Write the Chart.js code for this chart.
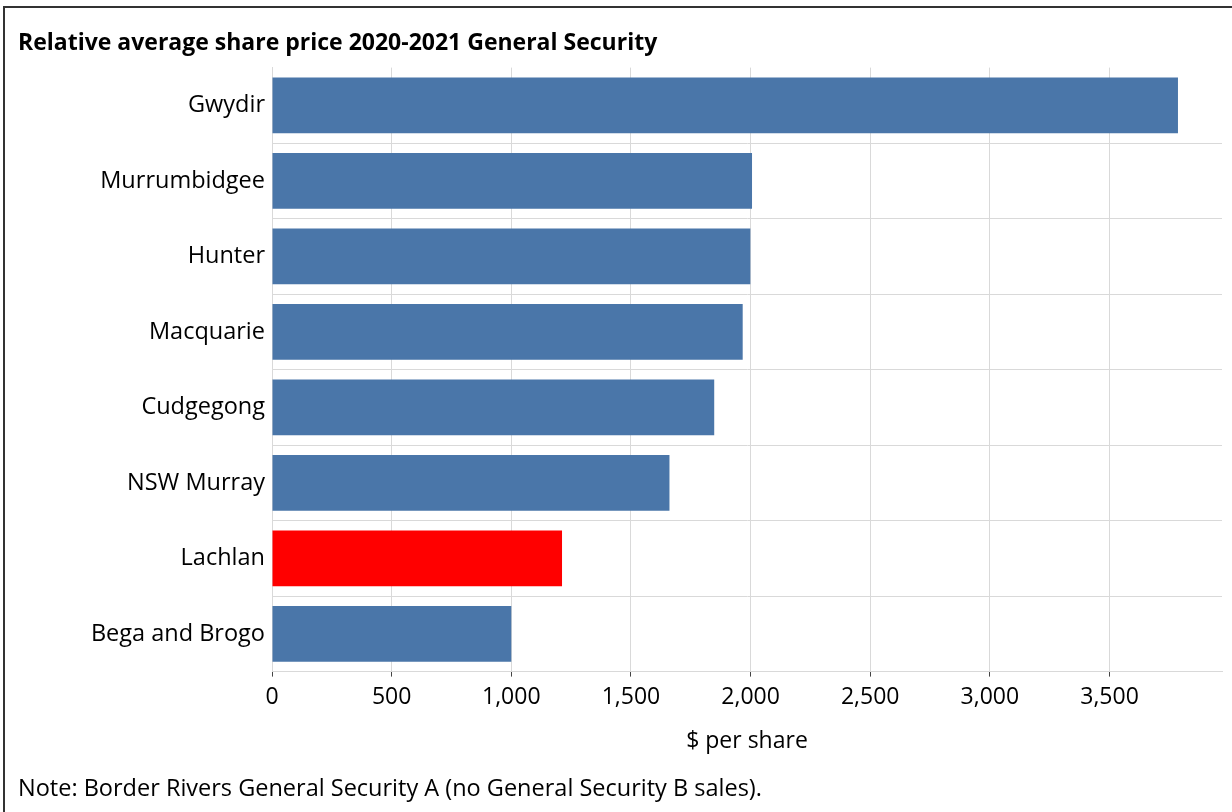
<!DOCTYPE html>
<html>
<head>
<meta charset="utf-8">
<script src="https://cdn.jsdelivr.net/npm/chart.js@4.4.1/dist/chart.umd.min.js"></script>
<style>
  body { margin: 0; background: #fff; }
  .wrap { position: relative; width: 1232px; height: 812px; overflow: hidden; }
  .frame { position: absolute; left: 3px; top: 6px; width: 1300px; height: 900px; border: 2px solid #333; }
  canvas { position: absolute; left: 0; top: 0; }
</style>
</head>
<body>
<div class="wrap">
  <div class="frame"></div>
  <canvas id="chart" width="1232" height="812"></canvas>
</div>
<script>
const categories = ['Gwydir', 'Murrumbidgee', 'Hunter', 'Macquarie', 'Cudgegong', 'NSW Murray', 'Lachlan', 'Bega and Brogo'];
const prices = [3786, 2006, 1999, 1967, 1848, 1661, 1212, 1000];
const xTicks = [0, 500, 1000, 1500, 2000, 2500, 3000, 3500];
const highlight = 'Lachlan';

const font = "'Open Sans', Lato, sans-serif";
const blue = '#4a76a9';
const red = '#ff0000';
const grid = '#d9d9d9';

const ctx = document.querySelector('#chart');
new Chart(ctx, {
  type: 'bar',
  data: {
    labels: categories,
    datasets: [{
      data: prices,
      backgroundColor: categories.map(c => c === highlight ? red : blue),
      borderWidth: 0,
      barPercentage: 0.74,
      categoryPercentage: 1
    }]
  },
  options: {
    indexAxis: 'y',
    responsive: false,
    animation: false,
    devicePixelRatio: 1,
    layout: { padding: { left: 18, right: 10, top: 0, bottom: 0 } },
    plugins: {
      legend: { display: false },
      tooltip: { enabled: false },
      title: {
        display: true,
        text: 'Relative average share price 2020-2021 General Security',
        align: 'start',
        color: '#000',
        font: { family: font, size: 23, weight: 'bold' },
        padding: { top: 30, bottom: 10 }
      },
      subtitle: {
        display: true,
        position: 'bottom',
        text: 'Note: Border Rivers General Security A (no General Security B sales).',
        align: 'start',
        color: '#000',
        font: { family: font, size: 23.5 },
        padding: { top: 20, bottom: 9 }
      }
    },
    scales: {
      x: {
        min: 0,
        max: 3970,
        ticks: {
          stepSize: 500,
          color: '#000',
          padding: 7,
          maxRotation: 0,
          font: { family: font, size: 23 },
          callback: v => v.toLocaleString('en-US')
        },
        afterBuildTicks: axis => {
          axis.ticks = xTicks.map(v => ({ value: v }));
        },
        grid: { color: grid, tickColor: '#444', tickLength: 5 },
        border: { color: grid },
        title: {
          display: true,
          text: '$ per share',
          color: '#000',
          font: { family: font, size: 23 },
          padding: { top: 9, bottom: 0 }
        }
      },
      y: {
        afterFit: scale => { scale.width = 254; },
        ticks: {
          color: '#000',
          padding: 7,
          font: { family: font, size: 23.5 }
        },
        grid: {
          offset: true,
          drawTicks: false,
          color: c => c.index === 0 ? 'rgba(0,0,0,0)' : grid
        },
        border: { color: grid }
      }
    }
  }
});
</script>
</body>
</html>
